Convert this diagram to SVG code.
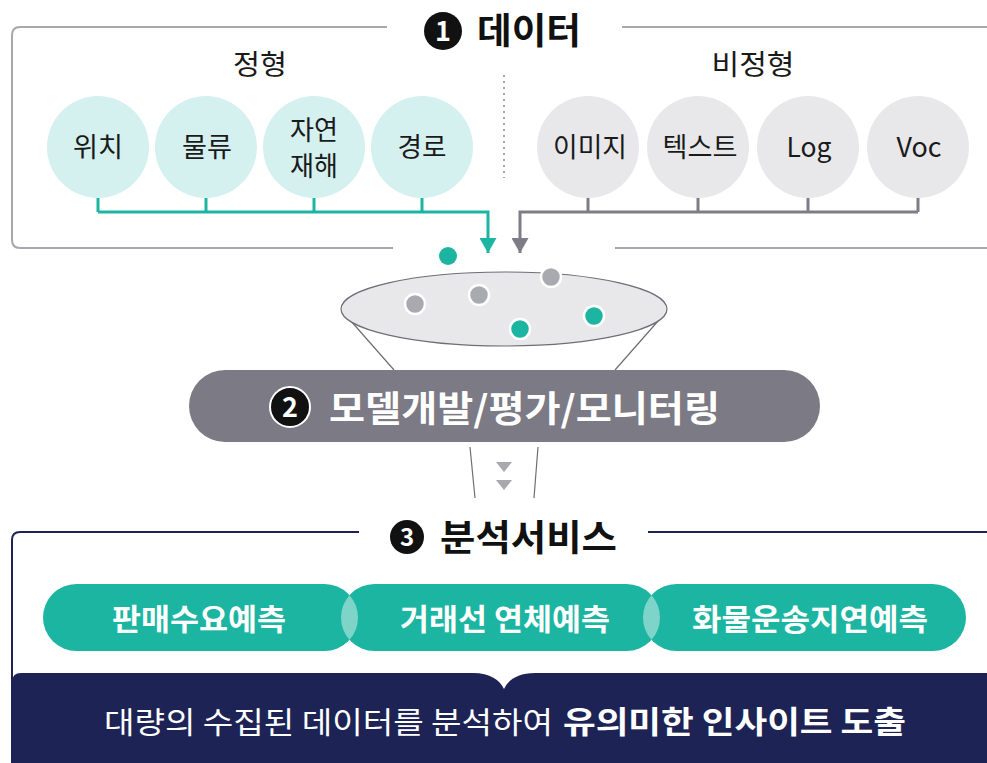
<svg xmlns="http://www.w3.org/2000/svg" width="987" height="763" viewBox="0 0 987 763">
<style>
text{font-family:"Noto Sans CJK KR","Noto Sans",sans-serif}
.lbl{font-size:27px;fill:#1a1a1a;text-anchor:middle}
.hd{font-size:28px;fill:#1a1a1a;text-anchor:middle}
.ttl{font-size:36px;font-weight:700;fill:#111}
.num{font-weight:700;fill:#fff;text-anchor:middle}
.cT{fill:#d4f0ef}
.cG{fill:#e8e8ea}
.tl{stroke:#1bb5a2;stroke-width:3;fill:none}
.gl{stroke:#7e7d87;stroke-width:3;fill:none}
.pill{fill:#1bb5a2}
.lens{fill:#7fd4c9}
.pt{font-size:30px;font-weight:700;fill:#fff;text-anchor:middle}
.dG{fill:#a9a9b0;stroke:#fff;stroke-width:2.5}
.dT{fill:#1bb5a2;stroke:#fff;stroke-width:2.5}
</style>
<defs>
<marker id="aT" markerWidth="17" markerHeight="15" refX="8.5" refY="15" markerUnits="userSpaceOnUse" viewBox="0 0 17 15"><path d="M0 0H17L8.5 15Z" fill="#1bb5a2"/></marker>
<marker id="aG" markerWidth="17" markerHeight="15" refX="8.5" refY="15" markerUnits="userSpaceOnUse" viewBox="0 0 17 15"><path d="M0 0H17L8.5 15Z" fill="#7e7d87"/></marker>
</defs>
<rect width="987" height="763" fill="#fff"/>

<!-- Section 1 frame -->
<g id="frame1" fill="none" stroke="#a7a7ad" stroke-width="2">
<path d="M387 27H20Q12 27 12 35V240Q12 248 20 248H393"/>
<path d="M622 27H987"/>
<path d="M615 248H987"/>
<line x1="504" y1="75" x2="504" y2="178" stroke-dasharray="2 4" stroke="#a7a7ad"/>
</g>
<g id="title1">
<circle cx="443" cy="31" r="19" fill="#111"/>
<text class="num" x="443" y="41" font-size="27">1</text>
<text class="ttl" x="477" y="44" textLength="104" lengthAdjust="spacingAndGlyphs">데이터</text>
</g>
<text class="hd" x="260" y="75" textLength="54" lengthAdjust="spacingAndGlyphs">정형</text>
<text class="hd" x="753" y="75" textLength="83" lengthAdjust="spacingAndGlyphs">비정형</text>

<g id="n-loc"><circle class="cT" cx="98" cy="147" r="51"/><text class="lbl" x="98" y="157" textLength="50" lengthAdjust="spacingAndGlyphs">위치</text></g>
<g id="n-logi"><circle class="cT" cx="206" cy="147" r="51"/><text class="lbl" x="207" y="157" textLength="50" lengthAdjust="spacingAndGlyphs">물류</text></g>
<g id="n-dis"><circle class="cT" cx="314" cy="147" r="51"/><text class="lbl" x="314" y="140" font-size="25" textLength="48" lengthAdjust="spacingAndGlyphs">자연</text><text class="lbl" x="314" y="176" font-size="25" textLength="48" lengthAdjust="spacingAndGlyphs">재해</text></g>
<g id="n-route"><circle class="cT" cx="422" cy="147" r="51"/><text class="lbl" x="422" y="157" textLength="49" lengthAdjust="spacingAndGlyphs">경로</text></g>
<g id="n-img"><circle class="cG" cx="588" cy="147" r="51"/><text class="lbl" x="590" y="157" textLength="74" lengthAdjust="spacingAndGlyphs">이미지</text></g>
<g id="n-text"><circle class="cG" cx="698" cy="147" r="51"/><text class="lbl" x="700" y="157" textLength="75" lengthAdjust="spacingAndGlyphs">텍스트</text></g>
<g id="n-log"><circle class="cG" cx="808" cy="147" r="51"/><text class="lbl" x="809" y="157" font-family="Inter,sans-serif" textLength="45" lengthAdjust="spacingAndGlyphs">Log</text></g>
<g id="n-voc"><circle class="cG" cx="918" cy="147" r="51"/><text class="lbl" x="919" y="157" textLength="45" lengthAdjust="spacingAndGlyphs">Voc</text></g>

<g id="connectors">
<path class="tl" d="M98 198V212M206 198V212M314 198V212M422 198V212"/>
<path class="tl" d="M98 212H488V253" marker-end="url(#aT)"/>
<path class="gl" d="M588 198V212M698 198V212M808 198V212M918 198V212"/>
<path class="gl" d="M918 212H520V253" marker-end="url(#aG)"/>
</g>

<!-- Funnel -->
<g id="funnel">
<path d="M343 312L394 370M666 312L615 370" stroke="#6e6e75" stroke-width="1.2" fill="none"/>
<ellipse cx="504" cy="309" rx="163" ry="37" fill="#e8e8ea" stroke="#6e6e75" stroke-width="1.2"/>
<circle cx="448" cy="256" r="9" fill="#1bb5a2"/>
<circle class="dG" cx="415" cy="304" r="10"/>
<circle class="dG" cx="479" cy="295" r="10"/>
<circle class="dG" cx="551" cy="277" r="10"/>
<circle class="dT" cx="520" cy="329" r="10"/>
<circle class="dT" cx="594" cy="316" r="10"/>
<path d="M470 447L475 498M538 447L534 498" stroke="#6e6e75" stroke-width="1.2" fill="none"/>
<path d="M496 462H512L504 472ZM496 480H512L504 490Z" fill="#a8a8ad"/>
</g>

<g id="model">
<rect x="189" y="370" width="631" height="72" rx="36" fill="#7b7a85"/>
<circle cx="290" cy="407" r="20" fill="#111" stroke="#fff" stroke-width="2"/>
<text class="num" x="290" y="417" font-size="27">2</text>
<text x="329" y="422" font-size="36" font-weight="700" fill="#fff" textLength="391" lengthAdjust="spacingAndGlyphs">모델개발/평가/모니터링</text>
</g>

<!-- Section 3 -->
<g id="frame3">
<path d="M359 532H20Q12 532 12 540V763M648 532H987" fill="none" stroke="#1d2455" stroke-width="2"/>
<circle cx="407" cy="537" r="17" fill="#111"/>
<text class="num" x="407" y="546" font-size="24">3</text>
<text class="ttl" x="440" y="551" textLength="177" lengthAdjust="spacingAndGlyphs">분석서비스</text>
</g>

<g id="s-sales"><rect class="pill" x="43" y="584" width="315" height="67" rx="33.5"/><text class="pt" x="199" y="630" textLength="174" lengthAdjust="spacingAndGlyphs">판매수요예측</text></g>
<g id="s-overdue"><rect class="pill" x="341" y="584" width="319" height="67" rx="33.5"/><text class="pt" x="505" y="630" textLength="210" lengthAdjust="spacingAndGlyphs">거래선 연체예측</text></g>
<g id="s-cargo"><rect class="pill" x="643" y="584" width="323" height="67" rx="33.5"/><text class="pt" x="810" y="630" textLength="236" lengthAdjust="spacingAndGlyphs">화물운송지연예측</text></g>
<path class="lens" d="M349.5 595.2A33.5 33.5 0 0 1 349.5 639.8A33.5 33.5 0 0 1 349.5 595.2Z"/>
<path class="lens" d="M651.5 595.2A33.5 33.5 0 0 1 651.5 639.8A33.5 33.5 0 0 1 651.5 595.2Z"/>

<g id="insight">
<path d="M12 682Q12 673 21 673H473C490 673 500 680 504 689C508 680 518 673 535 673H987V763H12Z" fill="#1d2455"/>
<text x="104" y="733" font-size="30" fill="#fff" textLength="449" lengthAdjust="spacingAndGlyphs">대량의 수집된 데이터를 분석하여</text>
<text x="563" y="733" font-size="31" font-weight="700" fill="#fff" textLength="343" lengthAdjust="spacingAndGlyphs">유의미한 인사이트 도출</text>
</g>
</svg>
